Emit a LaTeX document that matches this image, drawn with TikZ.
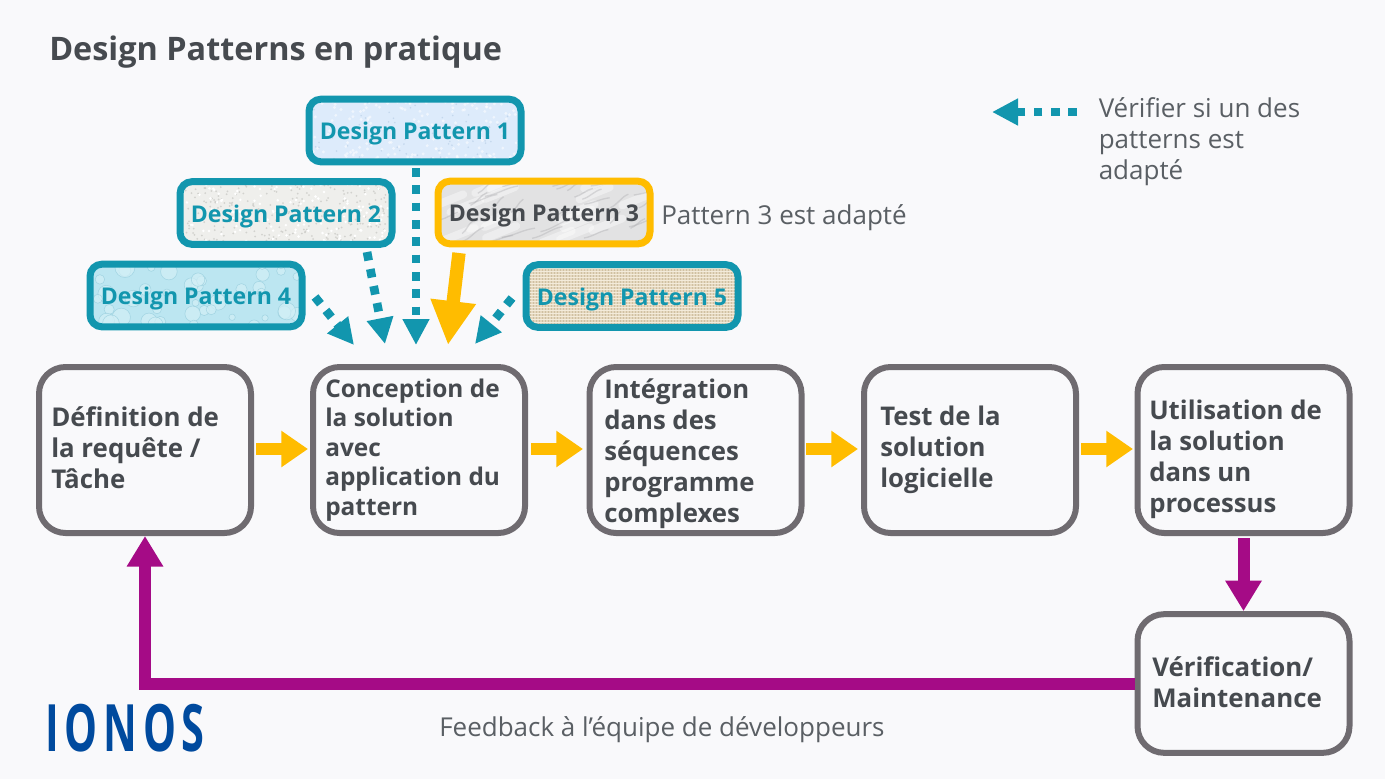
\documentclass[tikz,border=0pt]{standalone}
\usepackage{fontspec}
\setmainfont{Open Sans}
\usetikzlibrary{arrows.meta}
\definecolor{bgc}{HTML}{F9F9FB}
\definecolor{tealc}{HTML}{1296AE}
\definecolor{amber}{HTML}{FFBC00}
\definecolor{purp}{HTML}{A50B86}
\definecolor{framegrey}{HTML}{6F6B70}
\definecolor{ink}{HTML}{464A4F}
\definecolor{softink}{HTML}{5A5F64}
\definecolor{logoblue}{HTML}{004A9E}
\definecolor{ta}{HTML}{DDEBFB}
\definecolor{tb}{HTML}{B4CBE4}
\definecolor{tc}{HTML}{EFEFEC}
\definecolor{td}{HTML}{C9C9C5}
\definecolor{te}{HTML}{E2E2E3}
\definecolor{tf}{HTML}{A6A6AA}
\definecolor{tg}{HTML}{BCE6F1}
\definecolor{th}{HTML}{D2EFF6}
\definecolor{ti}{HTML}{8CC7D8}
\definecolor{tj}{HTML}{E4D7BF}
\definecolor{tk}{HTML}{C9B998}
\definecolor{tl}{HTML}{F3EBDA}
\tikzset{
  x=0.75pt,y=-0.75pt,
  mainbox/.style={draw=framegrey,line width=4.5pt,rounded corners=20pt,minimum width=159pt,minimum height=124.5pt,inner sep=0pt},
  boxtext/.style={inner sep=0pt,anchor=base west,align=left,text=ink,font=\fontsize{#1}{23.25pt}\selectfont\bfseries},
  patbox/.style={draw=tealc,line width=5.25pt,rounded corners=9pt,minimum width=159pt,minimum height=47pt,inner sep=0pt,text=tealc,text height=14.8pt,text depth=1pt,font=\fontsize{17.3pt}{19pt}\selectfont\bfseries},
  plain/.style={inner sep=0pt,anchor=base west,text=softink,align=left,font=\fontsize{19.5pt}{23.25pt}\selectfont},
  dotted arrow/.style={draw=tealc,line width=6.5pt,dash pattern=on 6.5pt off 6.5pt,-{Triangle[length=19.5pt,width=19pt]}},
  amber big/.style={draw=amber,line width=10pt,-{Triangle[length=33pt,width=32pt]}},
  amber small/.style={draw=amber,line width=8.5pt,-{Triangle[length=20pt,width=26pt]}},
  purple line/.style={draw=purp,line width=9pt,-{Triangle[length=23pt,width=26pt]}},
}
\begin{document}
\begin{tikzpicture}
\useasboundingbox (0,0) rectangle (1385,779);
\fill[bgc] (0,0) rectangle (1385,779);
\pgfmathsetseed{17}
% textures
\begin{scope}
\clip[rounded corners=6pt] (310,99) rectangle (521,161);
\fill[ta] (310,99) rectangle (521,161);
\foreach \i in {1,...,170}{\pgfmathsetmacro\a{310+211*rnd}\pgfmathsetmacro\b{99+62*rnd}\fill[white,opacity=.55] (\a,\b) circle (1.6);}
\foreach \i in {1,...,60}{\pgfmathsetmacro\a{310+211*rnd}\pgfmathsetmacro\b{99+62*rnd}\fill[tb,opacity=.6] (\a,\b) circle (.9);}
\end{scope}
\begin{scope}
\clip[rounded corners=6pt] (181,182) rectangle (392,244);
\fill[tc] (181,182) rectangle (392,244);
\foreach \i in {1,...,300}{\pgfmathsetmacro\a{181+211*rnd}\pgfmathsetmacro\b{182+62*rnd}\fill[td,opacity=.75] (\a,\b) circle (1);}
\foreach \i in {1,...,150}{\pgfmathsetmacro\a{181+211*rnd}\pgfmathsetmacro\b{182+62*rnd}\fill[white] (\a,\b) circle (1.4);}
\end{scope}
\begin{scope}
\clip[rounded corners=6pt] (439,182) rectangle (649,244);
\fill[te] (439,182) rectangle (649,244);
\foreach \i in {1,...,18}{\pgfmathsetmacro\a{430+220*rnd}\pgfmathsetmacro\b{185+60*rnd}\draw[white,line width=6pt,opacity=.4,line cap=round] (\a,\b) -- ++(30,-12);}
\foreach \i in {1,...,30}{\pgfmathsetmacro\a{430+220*rnd}\pgfmathsetmacro\b{185+60*rnd}\pgfmathsetmacro\c{10+24*rnd}\pgfmathsetmacro\d{6+8*rnd}\draw[tf,line width=1pt,opacity=.35] (\a,\b) .. controls (\a+\c*.4,\b-\d*.2) and (\a+\c*.6,\b-\d*.8) .. (\a+\c,\b-\d);}
\end{scope}
\begin{scope}
\clip[rounded corners=6pt] (91,265) rectangle (302,326);
\fill[tg] (91,265) rectangle (302,326);
\foreach \i in {1,...,45}{\pgfmathsetmacro\a{91+211*rnd}\pgfmathsetmacro\b{265+61*rnd}\pgfmathsetmacro\c{3+7*rnd}\fill[th,opacity=.7] (\a,\b) circle (\c);\draw[ti,line width=.4pt,opacity=.6] (\a,\b) circle (\c);}
\end{scope}
\begin{scope}
\clip[rounded corners=6pt] (527,265) rectangle (737,327);
\fill[tj] (527,265) rectangle (737,327);
\foreach \i in {0,...,70}{\draw[tk,line width=.5pt,opacity=.75] (527+\i*3,265) -- (527+\i*3,327);}
\foreach \i in {0,...,20}{\draw[tl,line width=.6pt] (527,265+\i*3) -- (737,265+\i*3);}
\end{scope}
% title
\node[plain,text=ink,font=\fontsize{24.3pt}{26pt}\selectfont\bfseries] (title) at (49,60) {Design Patterns en pratique};
% pattern boxes
\node[patbox] (p1) at (415,130.5) {Design Pattern 1};
\node[patbox] (p2) at (286,213) {Design Pattern 2};
\node[patbox,draw=amber,text=ink] (p3) at (544,212.5) {Design Pattern 3};
\node[patbox] (p4) at (196,295.5) {Design Pattern 4};
\node[patbox] (p5) at (632,296) {Design Pattern 5};
\node[plain] (adapt) at (661,224) {Pattern 3 est adapté};
% main boxes
\node[mainbox] (b1) at (145,450) {};
\node[mainbox] (b2) at (419,450) {};
\node[mainbox] (b3) at (695.5,450) {};
\node[mainbox] (b4) at (970,450) {};
\node[mainbox] (b5) at (1243.5,450) {};
\node[mainbox,minimum height=104pt] (b6) at (1243.5,683.5) {};
\node[boxtext=19.4pt] (b1t) at (51,488) {Définition de\\la requête /\\Tâche};
\node[boxtext=18.3pt,font=\fontsize{18.3pt}{22.1pt}\selectfont\bfseries] (b2t) at (325,515) {Conception de\\la solution\\avec\\application du\\pattern};
\node[boxtext=19.3pt] (b3t) at (604,522) {Intégration\\dans des\\séquences\\programme\\complexes};
\node[boxtext=19.3pt] (b4t) at (880,487) {Test de la\\solution\\logicielle};
\node[boxtext=19.3pt] (b5t) at (1149,512) {Utilisation de\\la solution\\dans un\\processus};
\node[boxtext=19.4pt] (b6t) at (1152,707) {Vérification/\\Maintenance};
% coordinates for free ends
\coordinate (t1) at (416,345);
\coordinate (s1) at (416,168);
\coordinate (s2) at (367,252);
\coordinate (t2) at (385,344);
\coordinate (s3) at (459,253);
\coordinate (t3) at (448,345);
\coordinate (s4) at (315,297);
\coordinate (t4) at (354,345);
\coordinate (s5) at (512,298);
\coordinate (t5) at (475,344);
% pattern arrows
\draw[dotted arrow] (s1) -- (t1);
\draw[dotted arrow] (s2) -- (t2);
\draw[dotted arrow] (s4) -- (t4);
\draw[dotted arrow] (s5) -- (t5);
\draw[amber big] (s3) -- (t3);
% flow arrows
\draw[amber small] (256,449) -- (308,449);
\draw[amber small] (531,449) -- (583,449);
\draw[amber small] (806,449) -- (858,449);
\draw[amber small] (1081,449) -- (1133,449);
% maintenance
\draw[purple line] (b5.south) ++(0,2) -- (b6.north);
\draw[purple line] (b6.west) -| (b1.south);
% legend
\coordinate (ls) at (1077,112);
\coordinate (lt) at (992,112);
\draw[dotted arrow] (ls) -- (lt);
\node[plain] (leg) at (1098.5,179) {Vérifier si un des\\patterns est\\adapté};
\node[plain] (fb) at (439,736) {Feedback à l’équipe de développeurs};
% logo
\node[inner sep=0pt,anchor=base west,text=logoblue,xscale=.635] (logo) at (45,751) {\fontsize{49pt}{50pt}\selectfont\addfontfeature{LetterSpace=14}\bfseries IONOS};
\end{tikzpicture}
\end{document}
